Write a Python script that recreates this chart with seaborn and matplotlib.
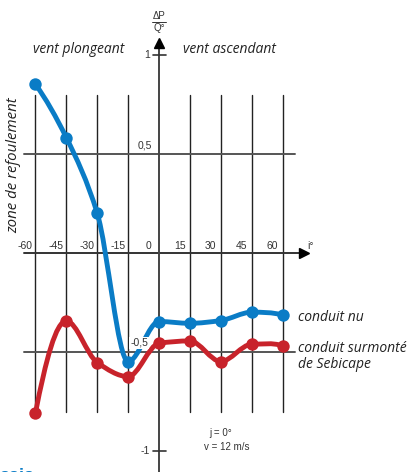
import matplotlib
matplotlib.use("Agg")
import matplotlib.pyplot as plt
from matplotlib.path import Path
from matplotlib.patches import PathPatch
import seaborn as sns
import numpy as np
import pandas as pd

# donnees
angles = [-60, -45, -30, -15, 0, 15, 30, 45, 60]
conduit_nu = [0.853, 0.584, 0.202, -0.547, -0.345, -0.354, -0.340, -0.298, -0.312]
conduit_sebicape = [-0.808, -0.342, -0.552, -0.623, -0.455, -0.443, -0.547, -0.460, -0.468]
x_ticks = [-60, -45, -30, -15, 0, 15, 30, 45, 60]
x_tick_labels = ["-60", "-45", "-30", "-15", "0", "15", "30", "45", "60"]
y_ticks = [1, 0.5, -0.5, -1]
y_tick_labels = ["1", "0,5", "-0,5", "-1"]

BLUE = "#0a7cc6"
RED = "#c8232b"
GRID = "#222222"
AXIS = "#555555"


def smooth_path(x, y):
    """Courbe lisse (cubique monotone) passant par les points, en bezier."""
    x = np.asarray(x, float)
    y = np.asarray(y, float)
    h = np.diff(x)
    d = np.diff(y) / h
    m = np.zeros_like(y)
    for i in range(1, len(y) - 1):
        if d[i - 1] * d[i] > 0:
            w1 = 2 * h[i] + h[i - 1]
            w2 = h[i] + 2 * h[i - 1]
            m[i] = (w1 + w2) / (w1 / d[i - 1] + w2 / d[i])
    m[0] = ((2 * h[0] + h[1]) * d[0] - h[0] * d[1]) / (h[0] + h[1])
    m[-1] = ((2 * h[-1] + h[-2]) * d[-1] - h[-1] * d[-2]) / (h[-1] + h[-2])
    verts = [(x[0], y[0])]
    codes = [Path.MOVETO]
    for i in range(len(x) - 1):
        verts += [(x[i] + h[i] / 3, y[i] + m[i] * h[i] / 3),
                  (x[i + 1] - h[i] / 3, y[i + 1] - m[i + 1] * h[i] / 3),
                  (x[i + 1], y[i + 1])]
        codes += [Path.CURVE4] * 3
    return Path(verts, codes)


sns.set_style("white")
plt.rcParams['font.family'] = ['Liberation Sans', 'DejaVu Sans']

fig = plt.figure(figsize=(4.13, 4.72), dpi=100)
ax = fig.add_axes([0, 0, 1, 1])

# grille
for xv in x_ticks:
    if xv != 0:
        ax.plot([xv, xv], [-0.8, 0.8], color=GRID, lw=1.0, zorder=1)
for yv in [0.5, -0.5]:
    ax.plot([-65.5, 66], [yv, yv], color=AXIS, lw=1.4, zorder=1)

# axes
ax.plot([-65.5, 68], [0, 0], color="#333333", lw=1.4, zorder=2)
ax.plot([70.5], [0], marker=">", color="black", markersize=7, zorder=2)
ax.plot([0, 0], [-1.12, 1.04], color="#444444", lw=1.4, zorder=2)
ax.plot([0], [1.062], marker="^", color="black", markersize=7, zorder=2)
for yv in [1, -1]:
    ax.plot([-3, 3.5], [yv, yv], color="#333333", lw=1.2, zorder=2)

# courbes
df = pd.DataFrame({"angle": angles, "nu": conduit_nu, "sebicape": conduit_sebicape})
for col, c in [("nu", BLUE), ("sebicape", RED)]:
    ax.add_patch(PathPatch(smooth_path(df["angle"], df[col]), fill=False,
                           edgecolor=c, lw=3.5, capstyle="round", joinstyle="round", zorder=4))
    sns.scatterplot(data=df, x="angle", y=col, color=c, s=80, edgecolor=c,
                    linewidth=0, ax=ax, zorder=5, legend=False)
ax.set_xlim(-77.2, 123.3)
ax.set_ylim(-1.105, 1.279)
ax.axis("off")

# graduations
for xv, lab in zip(x_ticks, x_tick_labels):
    ax.text(xv - 4.9, 0.037, lab, ha="center", va="center", fontsize=7.5, color="#333333", zorder=6)
ax.text(71.8, 0.037, "i°", ha="left", va="center", fontsize=7.5, color="#333333")
ax.text(-4.4, 1.0, y_tick_labels[0], ha="right", va="center", fontsize=7.5, color="#333333")
ax.text(-6.8, 0.542, y_tick_labels[1], ha="center", va="center", fontsize=7.5, color="#333333")
ax.text(-9.7, -0.453, y_tick_labels[2], ha="center", va="center", fontsize=7.5, color="#333333",
        bbox=dict(facecolor="white", edgecolor="none", pad=1.0), zorder=6)
ax.text(-4.4, -1.0, y_tick_labels[3], ha="right", va="center", fontsize=7.5, color="#333333")

# titre axe y
ax.text(0, 1.198, "ΔP", ha="center", va="center", fontsize=7, color="#333333")
ax.plot([-3.4, 3.4], [1.168, 1.168], color="#333333", lw=0.7)
ax.text(0, 1.138, "Q°", ha="center", va="center", fontsize=7, color="#333333")

# annotations
lab_font = dict(family=["Open Sans", "DejaVu Sans"], style="italic", color="#222222")
ax.text(-38.8, 1.027, "vent plongeant", ha="center", va="center", fontsize=10, **lab_font)
ax.text(34, 1.027, "vent ascendant", ha="center", va="center", fontsize=10, **lab_font)
ax.text(-70.4, 0.446, "zone de refoulement", ha="center", va="center", rotation=90,
        fontsize=10.8, **lab_font)
ax.text(67.5, -0.327, "conduit nu", ha="left", va="center", fontsize=10, **lab_font)
ax.text(67.5, -0.522, "conduit surmonté\nde Sebicape", ha="left", va="center",
        linespacing=1.15, fontsize=10, **lab_font)
ax.text(24.3, -0.908, "j = 0°", ha="left", va="center", fontsize=7, color="#333333")
ax.text(21.8, -0.978, "v = 12 m/s", ha="left", va="center", fontsize=7, color="#333333")

# fragment de texte coupe en bas a gauche
ax.text(-77.5, -1.15, "ssis", ha="left", va="baseline", fontsize=13, fontweight="bold", color=BLUE)

fig.savefig("out.png", dpi=100)
